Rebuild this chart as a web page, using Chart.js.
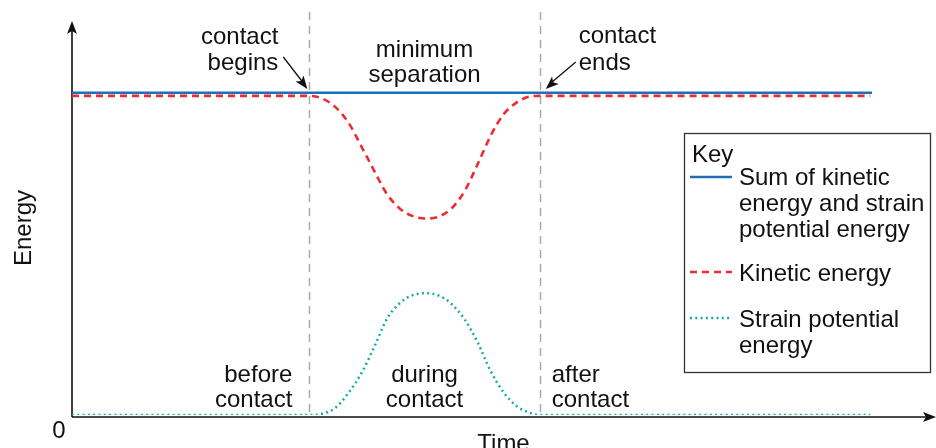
<!DOCTYPE html>
<html>
<head>
<meta charset="utf-8">
<script src="https://cdn.jsdelivr.net/npm/chart.js@4/dist/chart.umd.min.js"></script>
<style>
  html, body { margin: 0; padding: 0; background: #fff; }
  #wrap { width: 936px; height: 448px; }
</style>
</head>
<body>
<div id="wrap"><canvas id="energyChart" width="936" height="448"></canvas></div>
<script>
// values (time 0-100, energy 0-100)
var times   = [0, 27.5, 29, 30.5, 32, 33.5, 35, 36.5, 38, 39.5, 41, 42.5, 44, 45.5, 47, 48.5, 50, 51.5, 53, 54.2, 92.5];
var kinetic = [81.2, 81.2, 80.5, 78.4, 74.5, 68.5, 62.2, 56.2, 52.5, 50.6, 50.0, 50.5, 52.6, 57.0, 63.8, 71.0, 76.5, 79.5, 81.0, 81.2, 81.2];
var strain  = [0, 0, 0.3, 1.8, 5.5, 10.5, 17.2, 24.5, 28.5, 30.5, 31.0, 30.4, 28.2, 24.3, 18.5, 11.2, 5.8, 2.3, 0.6, 0, 0];
var sumTimes = [0, 92.7];
var sumEnergy = [82, 82];
var contactBegins = 27.5;
var contactEnds = 54.2;

var FONT = '24px "Liberation Sans", Arial, sans-serif';
var BLUE = '#1f6fb6', RED = '#ee2a33', TEAL = '#1aaaa5', GRAY = '#a9a9a9';

function pts(xs, ys) {
    return xs.map(function (x, i) { return { x: x, y: ys[i] }; });
}

function arrowHead(ctx, x, y, angle) {
    ctx.save();
    ctx.translate(x, y);
    ctx.rotate(angle);
    ctx.beginPath();
    ctx.moveTo(0, 0);
    ctx.lineTo(-13, -5);
    ctx.lineTo(-10, 0);
    ctx.lineTo(-13, 5);
    ctx.closePath();
    ctx.fill();
    ctx.restore();
}

var decor = {
    id: 'decor',
    beforeDatasetsDraw: function (chart) {
        var ctx = chart.ctx, xs = chart.scales.x, ys = chart.scales.y;
        var x0 = xs.getPixelForValue(0), y0 = ys.getPixelForValue(0) + 2;
        ctx.save();
        // contact markers
        ctx.strokeStyle = GRAY;
        ctx.lineWidth = 1.5;
        ctx.setLineDash([8, 6]);
        [contactBegins, contactEnds].forEach(function (t) {
            var px = Math.round(xs.getPixelForValue(t)) + 0.5;
            ctx.beginPath();
            ctx.moveTo(px, 12);
            ctx.lineTo(px, y0);
            ctx.stroke();
        });
        ctx.setLineDash([]);
        // axes
        ctx.strokeStyle = '#111';
        ctx.fillStyle = '#111';
        ctx.lineWidth = 1.6;
        ctx.beginPath();
        ctx.moveTo(x0, y0);
        ctx.lineTo(x0, 26);
        ctx.moveTo(x0, y0);
        ctx.lineTo(931, y0);
        ctx.stroke();
        arrowHead(ctx, x0, 21, -Math.PI / 2);
        arrowHead(ctx, 936, y0, 0);
        ctx.restore();
    },
    afterDraw: function (chart) {
        var ctx = chart.ctx, xs = chart.scales.x;
        var xb = xs.getPixelForValue(contactBegins), xe = xs.getPixelForValue(contactEnds);
        var xm = (xb + xe) / 2;
        ctx.save();
        ctx.font = FONT;
        ctx.fillStyle = '#111';
        ctx.textBaseline = 'alphabetic';

        ctx.textAlign = 'right';
        ctx.fillText('contact', xb - 31, 44);
        ctx.fillText('begins', xb - 31, 70);
        ctx.fillText('before', xb - 17, 382);
        ctx.fillText('contact', xb - 17, 407);

        ctx.textAlign = 'center';
        ctx.fillText('minimum', xm, 57);
        ctx.fillText('separation', xm, 82);
        ctx.fillText('during', xm, 382);
        ctx.fillText('contact', xm, 407);
        ctx.fillText('0', 59, 438);
        ctx.fillText('Time', (chart.chartArea.left + chart.chartArea.right) / 2, 451);

        ctx.textAlign = 'left';
        ctx.fillText('contact', xe + 39, 43);
        ctx.fillText('ends', xe + 39, 70);
        ctx.fillText('after', xe + 12, 382);
        ctx.fillText('contact', xe + 12, 407);

        // energy axis title
        ctx.save();
        ctx.translate(31, 228);
        ctx.rotate(-Math.PI / 2);
        ctx.textAlign = 'center';
        ctx.fillText('Energy', 0, 0);
        ctx.restore();

        // pointer arrows
        ctx.strokeStyle = '#111';
        ctx.lineWidth = 1.3;
        ctx.beginPath();
        ctx.moveTo(xb - 26, 57);
        ctx.lineTo(xb - 6, 83);
        ctx.moveTo(xe + 36, 62);
        ctx.lineTo(xe + 10, 84);
        ctx.stroke();
        arrowHead(ctx, xb - 2, 89, Math.atan2(32, 24));
        arrowHead(ctx, xe + 6, 89, Math.atan2(27, -30));

        // key
        ctx.strokeStyle = '#333';
        ctx.lineWidth = 1.3;
        ctx.strokeRect(684.5, 133.5, 246, 239);
        ctx.fillText('Key', 692, 162);
        var ds = chart.data.datasets;
        var rows = [
            { y: 177, ds: ds[0], lines: ['Sum of kinetic', 'energy and strain', 'potential energy'], base: 185 },
            { y: 272, ds: ds[1], lines: ['Kinetic energy'], base: 281 },
            { y: 318, ds: ds[2], lines: ['Strain potential', 'energy'], base: 327 }
        ];
        rows.forEach(function (r) {
            ctx.strokeStyle = r.ds.borderColor;
            ctx.lineWidth = r.ds.borderWidth;
            ctx.setLineDash(r.ds.borderDash || []);
            ctx.beginPath();
            ctx.moveTo(690, r.y);
            ctx.lineTo(732, r.y);
            ctx.stroke();
            ctx.setLineDash([]);
            r.lines.forEach(function (t, i) {
                ctx.fillText(t, 739, r.base + i * 26);
            });
        });
        ctx.restore();
    }
};

var ctx = document.getElementById('energyChart').getContext('2d');
var energyChart = new Chart(ctx, {
    type: 'line',
    data: {
        datasets: [
            { label: 'Sum of kinetic energy and strain potential energy', data: pts(sumTimes, sumEnergy),
              borderColor: BLUE, borderWidth: 2.5, pointRadius: 0 },
            { label: 'Kinetic energy', data: pts(times, kinetic),
              borderColor: RED, borderWidth: 2.6, borderDash: [7, 5], pointRadius: 0, cubicInterpolationMode: 'monotone' },
            { label: 'Strain potential energy', data: pts(times, strain),
              borderColor: TEAL, borderWidth: 2.5, borderDash: [2, 3.3], pointRadius: 0, cubicInterpolationMode: 'monotone' }
        ]
    },
    options: {
        responsive: false,
        animation: false,
        events: [],
        layout: { padding: { left: 72, right: 1, top: 22, bottom: 33 } },
        plugins: { legend: { display: false }, tooltip: { enabled: false } },
        scales: {
            x: { type: 'linear', min: 0, max: 100, display: false },
            y: { type: 'linear', min: 0, max: 100, display: false }
        }
    },
    plugins: [decor]
});
</script>
</body>
</html>
